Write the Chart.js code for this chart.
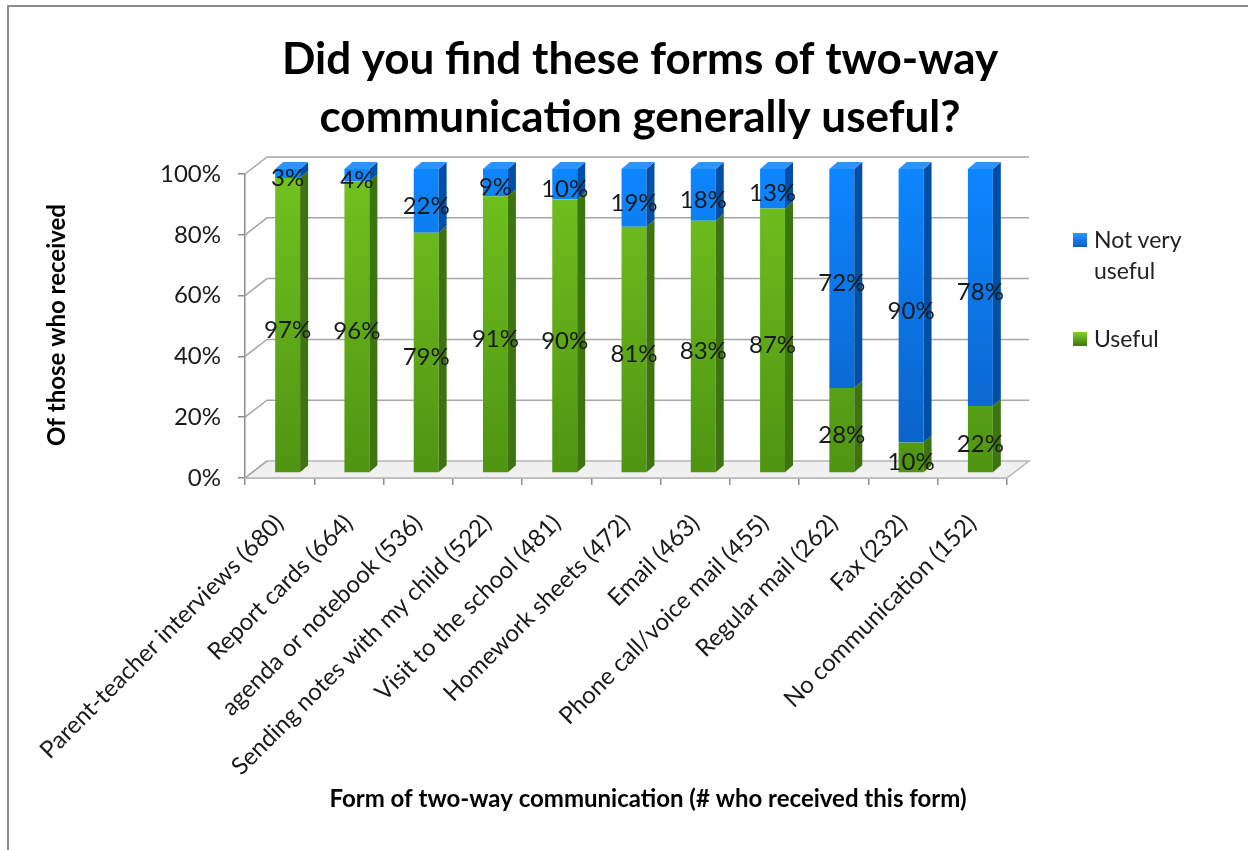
<!DOCTYPE html>
<html>
<head>
<meta charset="utf-8">
<script src="https://cdn.jsdelivr.net/npm/chart.js@4.4.1/dist/chart.umd.min.js"></script>
<style>
  body { margin: 0; background: #fff; }
  #frame { position: absolute; left: 7px; top: 5px; width: 1300px; height: 900px;
           border-top: 2px solid #8c8c8c; border-left: 2px solid #8c8c8c; }
  #wrap { position: absolute; left: 0; top: 0; width: 1248px; height: 850px; }
  #legend { position: absolute; left: 1073px; top: 224px; font-family: Lato, sans-serif;
            font-size: 23px; color: #222; line-height: 31px; }
  .item { display: flex; align-items: flex-start; margin-bottom: 37px; }
  .box { width: 14px; height: 14px; margin: 9px 7px 0 0; flex: none; }
</style>
</head>
<body>
<div id="frame"></div>
<div id="wrap"><canvas id="chart" width="1248" height="850"></canvas></div>
<div id="legend"></div>
<script>
// données
const categories = [
  'Parent-teacher interviews (680)', 'Report cards (664)', 'agenda or notebook (536)',
  'Sending notes with my child (522)', 'Visit to the school (481)', 'Homework sheets (472)',
  'Email (463)', 'Phone call/voice mail (455)', 'Regular mail (262)', 'Fax (232)',
  'No communication (152)'
];
const useful = [97, 96, 79, 91, 90, 81, 83, 87, 28, 10, 22];
const notUseful = [3, 4, 22, 9, 10, 19, 18, 13, 72, 90, 78];
const yTicks = [0, 20, 40, 60, 80, 100];

const chartTitle = ['Did you find these forms of two-way', 'communication generally useful?'];
const yTitle = 'Of those who received';
const xTitle = 'Form of two-way communication (# who received this form)';

const FONT = 'Lato, sans-serif';
const depth = { x: 22, y: -17 };   // profondeur du "mur" 3D
const shift = { x: 8, y: -5 };     // décalage des barres vers le fond
const side = { x: 8, y: -7 };      // face latérale des barres

function vGradient(ctx, area, top, bottom) {
    const g = ctx.createLinearGradient(0, area.top, 0, area.bottom);
    g.addColorStop(0, top);
    g.addColorStop(1, bottom);
    return g;
}

// Mur, sol et titres
const wallPlugin = {
    id: 'wall',
    beforeDatasetsDraw(chart) {
        const ctx = chart.ctx;
        const a = chart.chartArea;
        const y = chart.scales.y;
        ctx.save();
        // sol
        ctx.beginPath();
        ctx.moveTo(a.left, a.bottom);
        ctx.lineTo(a.right, a.bottom);
        ctx.lineTo(a.right + depth.x, a.bottom + depth.y);
        ctx.lineTo(a.left + depth.x, a.bottom + depth.y);
        ctx.closePath();
        ctx.fillStyle = '#f0f0f0';
        ctx.fill();
        ctx.strokeStyle = '#b5b5b5';
        ctx.lineWidth = 1.5;
        ctx.stroke();
        // lignes de grille sur le mur du fond
        ctx.strokeStyle = '#a6a6a6';
        ctx.lineWidth = 1.5;
        yTicks.forEach(t => {
            const py = y.getPixelForValue(t);
            ctx.beginPath();
            ctx.moveTo(a.left, py);
            ctx.lineTo(a.left + depth.x, py + depth.y);
            if (t > 0) ctx.lineTo(a.right + depth.x, py + depth.y);
            ctx.stroke();
        });
        ctx.restore();

        ctx.save();
        ctx.translate(shift.x, shift.y);
    },
    afterDatasetsDraw(chart) {
        const ctx = chart.ctx;
        const a = chart.chartArea;
        const sideColors = ['#3e7410', '#004fa6'];
        const topColors = ['#7fd22b', '#2b95ff'];
        const n = chart.data.datasets.length;
        chart.data.datasets.forEach((ds, di) => {
            const meta = chart.getDatasetMeta(di);
            meta.data.forEach(bar => {
                const top = Math.max(bar.y, a.top);
                const r = bar.x + bar.width / 2;
                const l = bar.x - bar.width / 2;
                ctx.beginPath();
                ctx.moveTo(r, top);
                ctx.lineTo(r + side.x, top + side.y);
                ctx.lineTo(r + side.x, bar.base + side.y);
                ctx.lineTo(r, bar.base);
                ctx.closePath();
                ctx.fillStyle = sideColors[di];
                ctx.fill();
                if (di === n - 1) {
                    ctx.beginPath();
                    ctx.moveTo(l, top);
                    ctx.lineTo(l + side.x, top + side.y);
                    ctx.lineTo(r + side.x, top + side.y);
                    ctx.lineTo(r, top);
                    ctx.closePath();
                    ctx.fillStyle = topColors[di];
                    ctx.fill();
                }
            });
        });
        ctx.restore();

        // étiquettes de valeurs
        ctx.save();
        ctx.font = '24px ' + FONT;
        ctx.fillStyle = '#1a1a1a';
        ctx.textAlign = 'center';
        ctx.textBaseline = 'middle';
        chart.data.datasets.forEach((ds, di) => {
            chart.getDatasetMeta(di).data.forEach((bar, i) => {
                const top = Math.max(bar.y, a.top);
                ctx.fillText(ds.data[i] + '%', bar.x + shift.x, (top + bar.base) / 2);
            });
        });
        ctx.restore();
    },
    afterDraw(chart) {
        const ctx = chart.ctx;
        ctx.save();
        ctx.fillStyle = '#000';
        ctx.textAlign = 'center';
        ctx.textBaseline = 'middle';
        ctx.font = 'bold 44px ' + FONT;
        ctx.fillText(chartTitle[0], 640, 60);
        ctx.fillText(chartTitle[1], 640, 118);
        ctx.font = 'bold 24px ' + FONT;
        ctx.fillText(xTitle, 648, 799);
        ctx.translate(57, 325);
        ctx.rotate(-Math.PI / 2);
        ctx.fillText(yTitle, 0, 0);
        ctx.restore();
    }
};

const ctx = document.getElementById('chart').getContext('2d');

new Chart(ctx, {
    type: 'bar',
    data: {
        labels: categories,
        datasets: [
            {
                label: 'Useful',
                data: useful,
                backgroundColor: c => c.chart.chartArea ? vGradient(c.chart.ctx, c.chart.chartArea, '#72c320', '#4f9412') : '#5fae17',
                barPercentage: 0.72,
                categoryPercentage: 0.5
            },
            {
                label: 'Not very useful',
                data: notUseful,
                backgroundColor: c => c.chart.chartArea ? vGradient(c.chart.ctx, c.chart.chartArea, '#0d86ff', '#0a5fc4') : '#0b7de8',
                barPercentage: 0.72,
                categoryPercentage: 0.5
            }
        ]
    },
    options: {
        responsive: false,
        animation: false,
        layout: { padding: { top: 174, right: 241, left: 0, bottom: 0 } },
        plugins: {
            legend: { display: false },
            title: { display: false },
            tooltip: { enabled: false }
        },
        scales: {
            x: {
                stacked: true,
                afterFit: s => { s.height = 372; },
                grid: { display: true, drawOnChartArea: false, offset: true, tickLength: 7, color: '#8c8c8c', lineWidth: 1.5 },
                border: { color: '#8c8c8c', width: 1.5 },
                ticks: {
                    minRotation: 45, maxRotation: 45, padding: 24,
                    color: '#1a1a1a', font: { family: FONT, size: 24 }
                }
            },
            y: {
                stacked: true,
                min: 0, max: 100,
                afterFit: s => { s.width = 245; },
                afterBuildTicks: s => { s.ticks = yTicks.map(v => ({ value: v })); },
                grid: { display: true, drawOnChartArea: false, tickLength: 7, color: '#8c8c8c', lineWidth: 1.5 },
                border: { color: '#8c8c8c', width: 1.5 },
                ticks: {
                    padding: 17, color: '#1a1a1a', font: { family: FONT, size: 24 },
                    callback: v => v + '%'
                }
            }
        }
    },
    plugins: [wallPlugin]
});

// légende à droite (ordre inverse, comme l'original)
const legendItems = [
    { text: 'Not very useful', colors: ['#2a95ff', '#0a5fc4'] },
    { text: 'Useful', colors: ['#7fd22b', '#3e7410'] }
];
const leg = document.getElementById('legend');
legendItems.forEach(it => {
    const d = document.createElement('div');
    d.className = 'item';
    const b = document.createElement('div');
    b.className = 'box';
    b.style.background = 'linear-gradient(' + it.colors[0] + ',' + it.colors[1] + ')';
    const t = document.createElement('div');
    t.style.width = '110px';
    t.textContent = it.text;
    d.appendChild(b);
    d.appendChild(t);
    leg.appendChild(d);
});
</script>
</body>
</html>
